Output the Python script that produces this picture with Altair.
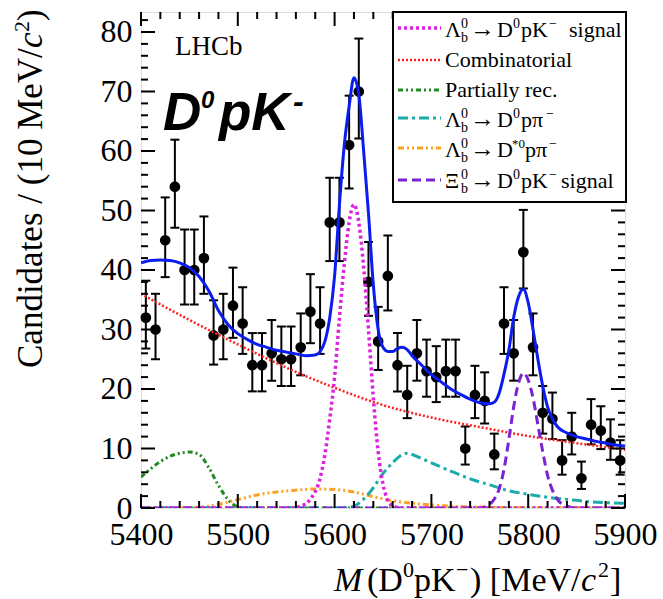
import altair as alt
import pandas as pd

# ---------------- data ----------------
mass = list(range(5405, 5900, 10))  # bin centres, 10 MeV bins
counts = [32, 30, 45, 54, 40, 40, 42, 29, 30, 34,
          31, 24, 24, 26, 25, 25, 27, 33, 31, 48,
          48, 61, 70, 38, 28, 39, 24, 19, 26, 23,
          22, 23, 23, 10, 19, 18, 9, 31, 26, 43,
          27, 16, 15, 8, 12, 5, 14, 13, 11, 8]
err_up = [6.2, 6.0, 7.2, 7.9, 6.8, 6.8, 7.0, 5.9, 6.0, 6.4,
          6.1, 5.4, 5.4, 5.6, 5.5, 5.5, 5.7, 6.3, 6.1, 7.5,
          7.5, 8.3, 8.9, 6.7, 5.8, 6.8, 5.4, 4.9, 5.6, 5.3,
          5.2, 5.3, 5.3, 3.7, 4.9, 4.8, 3.5, 6.1, 5.6, 7.1,
          5.7, 4.5, 4.4, 3.4, 4.0, 2.8, 4.3, 4.1, 3.9, 3.4]
err_dn = [5.2, 5.0, 6.2, 6.9, 5.8, 5.8, 6.0, 4.9, 5.0, 5.4,
          5.1, 4.4, 4.4, 4.6, 4.5, 4.5, 4.7, 5.3, 5.1, 6.5,
          6.5, 7.3, 7.9, 5.7, 4.8, 5.8, 4.4, 3.9, 4.6, 4.3,
          4.2, 4.3, 4.3, 2.7, 3.9, 3.8, 2.5, 5.1, 4.6, 6.1,
          4.7, 3.5, 3.4, 2.4, 3.0, 1.8, 3.3, 3.1, 2.9, 2.4]

tot_x = [5400, 5410, 5420, 5430, 5440, 5450, 5460, 5470, 5480, 5490,
         5500, 5510, 5520, 5530, 5540, 5550, 5560, 5570, 5580,
         5585, 5590, 5595, 5600, 5605, 5610, 5615, 5620, 5625, 5630,
         5635, 5640, 5645, 5650, 5655, 5660, 5665, 5670, 5675,
         5680, 5690, 5700, 5710, 5720, 5730, 5740, 5750, 5760,
         5765, 5770, 5775, 5780, 5785, 5790, 5795, 5800, 5805, 5810,
         5815, 5820, 5825, 5830,
         5840, 5850, 5860, 5870, 5880, 5890, 5900]
tot_y = [41.2, 41.6, 41.7, 41.6, 41.2, 40.4, 38.9, 36.5, 33.2, 30.8,
         29.3, 28.3, 27.5, 27.0, 26.5, 26.2, 25.9, 25.6, 25.7,
         26.3, 28.0, 32.0, 39.0, 51.0, 61.0, 67.5, 72.3, 69.5, 60.0,
         49.5, 37.5, 30.0, 27.0, 26.3, 26.3, 26.8, 27.0, 26.6,
         25.6, 24.0, 22.4, 21.2, 20.0, 19.1, 18.3, 17.7, 17.5,
         17.8, 19.3, 22.5, 26.5, 32.0, 35.5, 36.8, 34.5, 30.0, 25.0,
         20.5, 17.0, 15.0, 13.7,
         12.6, 12.0, 11.6, 11.2, 10.9, 10.6, 10.4]

comb_x = [5400, 5450, 5500, 5550, 5600, 5650, 5700, 5750, 5800, 5850, 5900]
comb_y = [36.0, 31.6, 27.5, 23.6, 20.2, 17.3, 15.2, 13.6, 12.1, 10.9, 9.8]

part_x = [5400, 5410, 5420, 5430, 5440, 5450, 5460, 5470, 5480, 5490, 5500, 5510, 5900]
part_y = [5.2, 6.6, 7.8, 8.7, 9.2, 9.4, 9.0, 6.8, 3.8, 1.4, 0.2, 0.0, 0.0]

dpi_x = [5400, 5610, 5620, 5630, 5640, 5650, 5660, 5670, 5675, 5680, 5690, 5700,
         5720, 5740, 5760, 5780, 5800, 5820, 5840, 5860, 5880, 5900]
dpi_y = [0.0, 0.0, 0.3, 1.5, 3.4, 5.8, 7.6, 9.0, 9.2, 9.0, 8.3, 7.6,
         6.2, 4.9, 3.9, 2.9, 2.3, 1.8, 1.45, 1.1, 0.9, 0.8]

dst_x = [5400, 5440, 5460, 5480, 5500, 5520, 5540, 5560, 5580, 5600, 5620, 5640,
         5660, 5680, 5700, 5720, 5750, 5800, 5850, 5900]
dst_y = [0.0, 0.0, 0.1, 0.6, 1.4, 2.2, 2.7, 3.0, 3.2, 3.1, 2.7, 1.9,
         1.2, 0.8, 0.5, 0.3, 0.15, 0.05, 0.0, 0.0]

lb_x = [5400, 5555, 5565, 5575, 5585, 5590, 5595, 5600, 5605, 5610, 5615, 5620,
        5625, 5630, 5635, 5640, 5645, 5650, 5655, 5660, 5670, 5900]
lb_y = [0.0, 0.0, 0.3, 1.5, 5.0, 9.0, 15.0, 22.0, 32.0, 41.0, 48.0, 51.0,
        48.0, 40.5, 30.0, 18.5, 9.5, 4.0, 1.3, 0.4, 0.0, 0.0]

xi_x = [5400, 5750, 5760, 5765, 5770, 5775, 5780, 5785, 5790, 5795, 5800, 5805,
        5810, 5815, 5820, 5825, 5830, 5840, 5850, 5900]
xi_y = [0.0, 0.0, 0.6, 1.5, 3.2, 6.5, 11.5, 17.0, 21.0, 22.7, 21.5, 18.5,
        14.0, 9.5, 5.5, 3.0, 1.5, 0.3, 0.0, 0.0]

x_labels = [5400, 5500, 5600, 5700, 5800, 5900]
y_labels = [0, 10, 20, 30, 40, 50, 60, 70, 80]

# ---------------- layout ----------------
W, H = 484, 496
X0, Y0 = 141, 12
SERIF = "Liberation Serif"
SANS = "Liberation Sans"

xs = alt.Scale(domain=[5400, 5900], nice=False, zero=False)
ys = alt.Scale(domain=[0, 83.36], nice=False, zero=False)

df = pd.DataFrame({
    "m": mass, "n": counts,
    "lo": [c - d for c, d in zip(counts, err_dn)],
    "hi": [c + u for c, u in zip(counts, err_up)],
})

xax = alt.Axis(values=x_labels, format="d", labelFont=SERIF, labelFontSize=32, labelColor="black",
               ticks=False, domain=False, grid=False, labelPadding=11,
               labelFlush=False, labelOverlap=False, title=None)
yax = alt.Axis(values=y_labels, format="d", labelFont=SERIF, labelFontSize=32, labelColor="black",
               ticks=False, domain=False, grid=False, labelPadding=9,
               labelOverlap=False, title=None)

one = pd.DataFrame({"a": [0]})

layers = []

# error bars + points
layers.append(alt.Chart(df).mark_rule(color="black", strokeWidth=2).encode(
    x=alt.X("m:Q", scale=xs, axis=xax),
    y=alt.Y("lo:Q", scale=ys, axis=yax), y2="hi:Q"))
for col in ["lo", "hi"]:
    layers.append(alt.Chart(df).mark_tick(orient="horizontal", size=9, thickness=2,
                                          color="black", opacity=1).encode(
        x=alt.X("m:Q", scale=xs), y=alt.Y(f"{col}:Q", scale=ys)))
layers.append(alt.Chart(df).mark_circle(size=115, color="black", opacity=1).encode(
    x=alt.X("m:Q", scale=xs), y=alt.Y("n:Q", scale=ys)))


def curve(xv, yv, color, width, dash=None):
    kw = dict(color=color, strokeWidth=width, interpolate="monotone", clip=True)
    if dash:
        kw["strokeDash"] = dash
    return alt.Chart(pd.DataFrame({"m": xv, "v": yv})).mark_line(**kw).encode(
        x=alt.X("m:Q", scale=xs), y=alt.Y("v:Q", scale=ys))


STY = {
    "lb": ("#dd22dd", 3.5, [3, 3]),
    "comb": ("#ff2020", 2.5, [2, 2]),
    "part": ("#228822", 3, [5, 3, 2, 3, 2, 3]),
    "dpi": ("#1aabab", 3, [10, 4, 3, 4]),
    "dst": ("#ffa020", 3, [6, 3, 2, 3, 2, 3]),
    "xi": ("#7b22d4", 3, [9, 5]),
}

layers.append(curve(comb_x, comb_y, *STY["comb"]))
layers.append(curve(part_x, part_y, *STY["part"]))
layers.append(curve(dst_x, dst_y, *STY["dst"]))
layers.append(curve(dpi_x, dpi_y, *STY["dpi"]))
layers.append(curve(xi_x, xi_y, *STY["xi"]))
layers.append(curve(lb_x, lb_y, *STY["lb"]))
layers.append(curve(tot_x, tot_y, "#0a1cf0", 3))

# inside ticks (ROOT style) on all four sides
x_major = x_labels
x_minor = [v for v in range(5400, 5901, 20) if v % 100]
y_major = y_labels
y_minor = [v for v in range(2, 84, 2) if v % 10]


def xticks(vals, length):
    d = pd.DataFrame({"t": vals})
    out = []
    for ya, yb in [(H, H - length), (0, length)]:
        out.append(alt.Chart(d).mark_rule(color="black", strokeWidth=2).encode(
            x=alt.X("t:Q", scale=xs), y=alt.value(ya), y2=alt.value(yb)))
    return out


def yticks(vals, length):
    d = pd.DataFrame({"t": vals})
    out = []
    for xa, xb in [(0, length), (W, W - length)]:
        out.append(alt.Chart(d).mark_rule(color="black", strokeWidth=2).encode(
            y=alt.Y("t:Q", scale=ys), x=alt.value(xa), x2=alt.value(xb)))
    return out


layers += xticks(x_major, 14) + xticks(x_minor, 7)
layers += yticks(y_major, 14) + yticks(y_minor, 7)

# legend box
layers.append(alt.Chart(one).mark_rect(fill="white", stroke="black", strokeWidth=2).encode(
    x=alt.value(393 - X0), x2=alt.value(626 - X0), y=alt.value(0), y2=alt.value(202 - Y0)))


def txt(s, x, y, size, font=SERIF, style="normal", weight="normal", angle=0, align="left"):
    return alt.Chart(one).mark_text(text=s, font=font, fontSize=size, fontStyle=style,
                                    fontWeight=weight, angle=angle, align=align,
                                    baseline="alphabetic", color="black").encode(
        x=alt.value(x - X0), y=alt.value(y - Y0))


def sample(y, key):
    color, width, dash = STY[key]
    return alt.Chart(one).mark_rule(color=color, strokeWidth=width, strokeDash=dash).encode(
        x=alt.value(398 - X0), x2=alt.value(441 - X0), y=alt.value(y - Y0))


legend_rows = [
    ("lb", 28, [("Λ", 445, 37, 22), ("0", 461, 28, 14), ("b", 461, 42, 14), ("→", 470, 37, 25),
                ("D", 497, 37, 22), ("0", 513, 28, 14), ("pK", 521, 37, 22), ("−", 549, 28, 14),
                ("signal", 569, 37, 22)]),
    ("comb", 60, [("Combinatorial", 445, 67, 22)]),
    ("part", 90, [("Partially rec.", 445, 97, 22)]),
    ("dpi", 118, [("Λ", 445, 127, 22), ("0", 461, 118, 14), ("b", 461, 132, 14), ("→", 470, 127, 25),
                  ("D", 497, 127, 22), ("0", 513, 118, 14), ("pπ", 521, 127, 22), ("−", 546, 118, 14)]),
    ("dst", 148, [("Λ", 445, 157, 22), ("0", 461, 148, 14), ("b", 461, 162, 14), ("→", 470, 157, 25),
                  ("D", 497, 157, 22), ("*0", 512, 148, 13), ("pπ", 525, 157, 22), ("−", 549, 148, 14)]),
    ("xi", 180, [("Ξ", 445, 188, 22), ("0", 461, 179, 14), ("b", 461, 193, 14), ("→", 470, 188, 25),
                 ("D", 497, 188, 22), ("0", 513, 179, 14), ("pK", 521, 188, 22), ("−", 549, 179, 14),
                 ("signal", 561, 188, 22)]),
]
for key, ly, segs in legend_rows:
    layers.append(sample(ly, key))
    for s, x, y, size in segs:
        layers.append(txt(s, x, y, size))

# LHCb and big channel label
layers.append(txt("LHCb", 175, 55, 27))
layers.append(txt("D", 163, 130, 53, font=SANS, style="italic", weight="bold"))
layers.append(txt("0", 201, 108, 24, font=SANS, style="italic", weight="bold"))
layers.append(txt("pK", 219, 130, 53, font=SANS, style="italic", weight="bold"))
layers.append(txt("-", 293, 112, 32, font=SANS, style="italic", weight="bold"))

# x-axis title: M (D0pK-) [MeV/c2]
XB = 591
for s, x, y, size, st in [("M", 334, XB, 34, "italic"), ("(D", 367, XB, 34, "normal"),
                          ("0", 403, XB - 14, 22, "normal"), ("pK", 414, XB, 34, "normal"),
                          ("−", 456, XB - 14, 22, "normal"), (") [MeV/", 470, XB, 34, "normal"),
                          ("c", 581, XB, 34, "italic"), ("2", 598, XB - 14, 22, "normal"),
                          ("]", 610, XB, 34, "normal")]:
    layers.append(txt(s, x, y, size, style=st))

# y-axis title: Candidates / (10 MeV/c2), rotated
YX = 42
for s, x, y, size, st in [("Candidates / (10 MeV/", YX, 368, 35, "normal"),
                          ("c", YX, 48, 35, "italic"), ("2", YX - 13, 32, 22, "normal"),
                          (")", YX, 21, 35, "normal")]:
    layers.append(txt(s, x, y, size, style=st, angle=270))

chart = alt.layer(*layers).properties(
    width=W, height=H,
    autosize=alt.AutoSizeParams(type="none"),
    padding={"left": X0, "top": Y0, "right": 663 - X0 - W, "bottom": 599 - Y0 - H},
).configure_view(stroke="black", strokeWidth=2).configure(background="white")

chart.save("out.html", embed_options={"renderer": "svg", "actions": False})
